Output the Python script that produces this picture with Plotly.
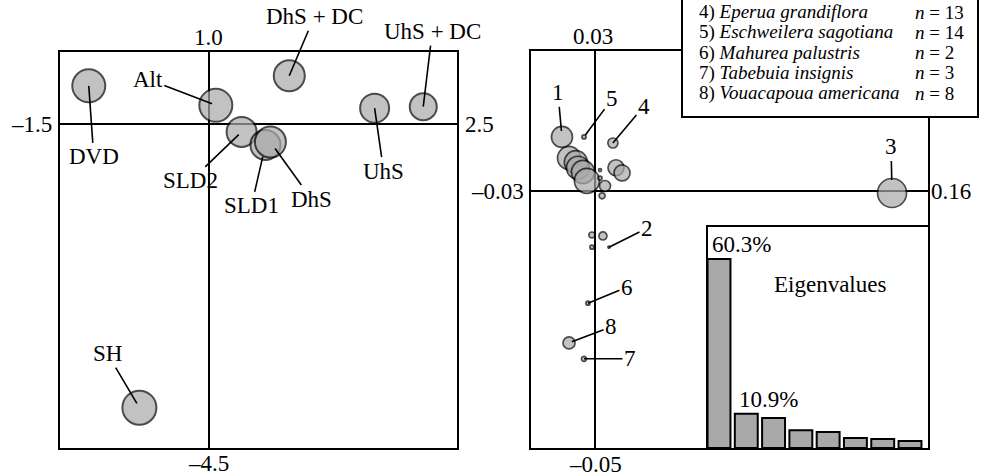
import plotly.graph_objects as go

W, H = 982, 476
GREY = "#a9a9a9"

# ---------------------------------------------------------------------------
# left panel: site scores
site_names = ["DVD", "Alt", "DhS + DC", "UhS", "UhS + DC", "SLD2", "SLD1", "DhS", "SH"]
site_x = [-1.21, 0.07, 0.81, 1.67, 2.16, 0.33, 0.57, 0.62, -0.70]
site_y = [0.53, 0.26, 0.67, 0.22, 0.24, -0.11, -0.29, -0.25, -3.94]
site_size = [33, 33, 31, 29, 27, 30, 30, 31, 34]
site_xrange = [-1.5, 2.5]
site_yrange = [-4.5, 1.0]
site_end_labels = ["1.0", "–4.5", "–1.5", "2.5"]  # top, bottom, left, right

# right panel: species scores ("" = unlabelled)
sp_label = ["1", "5", "4", "", "", "", "", "", "", "", "", "", "", "",
            "3", "", "", "", "2", "6", "8", "7"]
sp_x = [-0.0161, -0.0055, 0.0084, -0.0127, -0.0094, -0.0084, -0.0060, -0.0041,
        0.0099, 0.0128, 0.0046, 0.0032, 0.0022, 0.0022,
        0.1427, -0.0017, 0.0036, -0.0017, 0.0065, -0.0036, -0.0127, -0.0055]
sp_y = [0.0116, 0.0116, 0.0103, 0.0071, 0.0062, 0.0050, 0.0041, 0.0022,
        0.0050, 0.0039, 0.0011, -0.0010, 0.0045, 0.0028,
        -0.0004, -0.0094, -0.0096, -0.0120, -0.0120, -0.0240, -0.0325, -0.0359]
sp_size = [21, 4, 10, 23, 23, 23, 23, 25, 16, 16, 11, 6, 3, 4,
           29, 6, 8, 4, 2, 4, 12, 5]
sp_xrange = [-0.031, 0.16]
sp_yrange = [-0.055, 0.03]
sp_end_labels = ["0.03", "–0.05", "–0.03", "0.16"]

# eigenvalue inset
eig_axis = [1, 2, 3, 4, 5, 6, 7, 8]
eig_pct = [60.3, 10.9, 9.6, 5.7, 5.1, 3.2, 2.9, 2.2]
eig_labelled = [60.3, 10.9]

# species key (top lines are cut off in the figure)
key_num = [4, 5, 6, 7, 8]
key_name = ["Eperua grandiflora", "Eschweilera sagotiana", "Mahurea palustris",
            "Tabebuia insignis", "Vouacapoua americana"]
key_n = [13, 14, 2, 3, 8]

# ---------------------------------------------------------------------------
# label placement: (ax, ay, standoff) in pixels
site_lab = {
    "DVD": (5, 71, 0), "Alt": (-68, -26, 4), "DhS + DC": (25, -59, 0),
    "UhS": (9, 63, 0), "UhS + DC": (9, -75, 0), "SLD2": (-51, 49, 4),
    "SLD1": (-14, 61, 12), "DhS": (41, 57, 8), "SH": (-32, -54, 5),
}
sp_lab = {
    "1": (-4, -44, 6), "5": (28, -38, 2), "4": (31, -37, 0), "3": (-1, -46, 13),
    "2": (38, -19, 0), "6": (39, -16, 0), "8": (42, -16, 3), "7": (46, 0, 0),
}


def _dom_x(a, b):
    return [a / W, b / W]


def _dom_y(top, bottom):
    return [1 - bottom / H, 1 - top / H]


def _frame(domain, rng, anchor, zero=True):
    return dict(
        domain=domain, range=rng, anchor=anchor,
        showline=True, mirror=True, linecolor="black", linewidth=2,
        showgrid=False, showticklabels=False, ticks="",
        zeroline=zero, zerolinecolor="black", zerolinewidth=1.6,
        fixedrange=True,
    )


def _end_labels(texts, xr, yr, xref, yref, shifts):
    (tx, ty), (bx, by), (lx, ly), (rx, ry) = shifts
    return [
        dict(x=0, y=yr[1], text=texts[0], xref=xref, yref=yref, showarrow=False,
             xanchor="center", yanchor="bottom", xshift=tx, yshift=ty),
        dict(x=0, y=yr[0], text=texts[1], xref=xref, yref=yref, showarrow=False,
             xanchor="center", yanchor="top", xshift=bx, yshift=by),
        dict(x=xr[0], y=0, text=texts[2], xref=xref, yref=yref, showarrow=False,
             xanchor="right", yanchor="middle", xshift=lx, yshift=ly),
        dict(x=xr[1], y=0, text=texts[3], xref=xref, yref=yref, showarrow=False,
             xanchor="left", yanchor="middle", xshift=rx, yshift=ry),
    ]


fig = go.Figure()

fig.add_trace(go.Scatter(
    x=site_x, y=site_y, mode="markers", xaxis="x", yaxis="y",
    marker=dict(size=site_size, color=GREY, line=dict(color="black", width=2)),
    hoverinfo="skip",
))
fig.add_trace(go.Scatter(
    x=sp_x, y=sp_y, mode="markers", xaxis="x2", yaxis="y2",
    marker=dict(size=sp_size, color=GREY, line=dict(color="black", width=1.7)),
    hoverinfo="skip",
))
fig.add_trace(go.Bar(
    x=eig_axis, y=eig_pct, xaxis="x3", yaxis="y3", width=0.84,
    marker=dict(color=GREY, line=dict(color="black", width=2)),
    hoverinfo="skip",
))

ann = []
for name, x, y in zip(site_names, site_x, site_y):
    ax, ay, so = site_lab[name]
    ann.append(dict(x=x, y=y, xref="x", yref="y", text=name, showarrow=True,
                    arrowhead=0, arrowwidth=1.6, arrowcolor="black",
                    ax=ax, ay=ay, standoff=so))
for name, x, y in zip(sp_label, sp_x, sp_y):
    if not name:
        continue
    ax, ay, so = sp_lab[name]
    ann.append(dict(x=x, y=y, xref="x2", yref="y2", text=name, showarrow=True,
                    arrowhead=0, arrowwidth=1.6, arrowcolor="black",
                    ax=ax, ay=ay, standoff=so))

ann += _end_labels(site_end_labels, site_xrange, site_yrange, "x", "y",
                   [(0, 0), (0, -1), (-6, 0), (6, 0)])
ann += _end_labels(sp_end_labels, sp_xrange, sp_yrange, "x2", "y2",
                   [(-2, 0), (0, -2), (-5, 0), (1, 0)])

for k, v in zip(eig_axis, eig_pct):
    if v in eig_labelled:
        ann.append(dict(x=k, y=v, xref="x3", yref="y3", text=f"{v}%",
                        showarrow=False, xanchor="left", yanchor="bottom",
                        xshift=-9, yshift=0))
ann.append(dict(x=5.07, y=52, xref="x3", yref="y3", text="Eigenvalues",
                showarrow=False, xanchor="center", yanchor="middle"))

for i, (num, name, n) in enumerate(zip(key_num, key_name, key_n)):
    yc = 1 - (12 + 20.3 * i) / H
    ann.append(dict(x=697 / W, y=yc, xref="paper", yref="paper", showarrow=False,
                    text=f"{num}) <i>{name}</i>", xanchor="left", yanchor="middle",
                    font=dict(size=19)))
    ann.append(dict(x=913 / W, y=yc, xref="paper", yref="paper", showarrow=False,
                    text=f"<i>n</i> = {n}", xanchor="left", yanchor="middle",
                    font=dict(size=19)))

fig.add_shape(type="rect", xref="paper", yref="paper",
              x0=682 / W, x1=978 / W, y0=1 - 117 / H, y1=1.1,
              fillcolor="white", line=dict(color="black", width=2), layer="above")

fig.update_layout(
    width=W, height=H,
    margin=dict(l=0, r=0, t=0, b=0),
    paper_bgcolor="white", plot_bgcolor="white",
    showlegend=False,
    font=dict(family="Liberation Serif", size=23, color="black"),
    xaxis=_frame(_dom_x(60, 457), site_xrange, "y"),
    yaxis=_frame(_dom_y(52, 448), site_yrange, "x"),
    xaxis2=_frame(_dom_x(531, 928), sp_xrange, "y2"),
    yaxis2=_frame(_dom_y(51, 448), sp_yrange, "x2"),
    xaxis3=_frame(_dom_x(708, 928), [0.597, 8.66], "y3", zero=False),
    yaxis3=_frame(_dom_y(227, 448), [0, 70.5], "x3", zero=False),
    annotations=ann,
)

# page body has a default 8px margin; drop it so the figure fills the window
fig.write_html("out.html", config={"displayModeBar": False},
               post_script="document.body.style.margin='0';")
